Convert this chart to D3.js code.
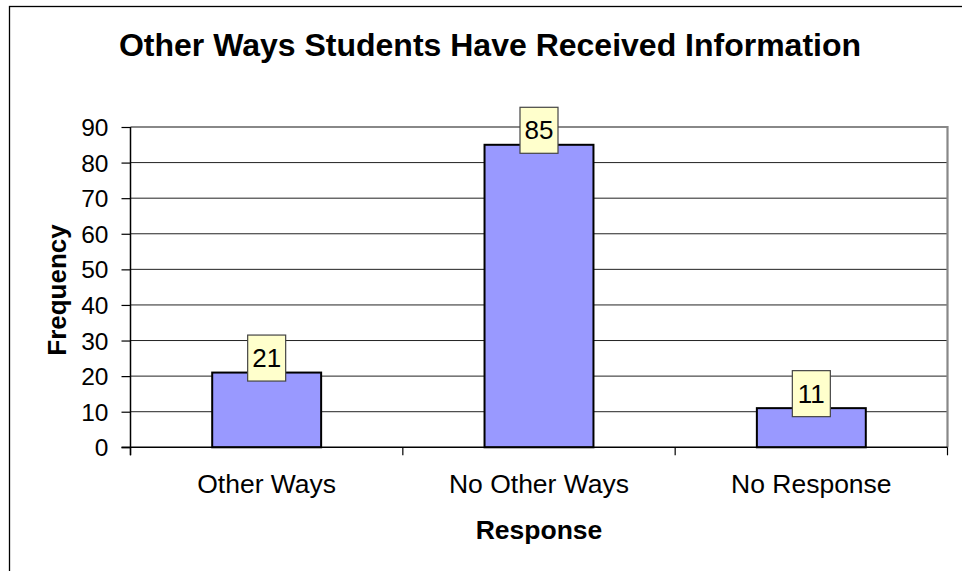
<!DOCTYPE html>
<html><head><meta charset="utf-8">
<script src="https://cdn.jsdelivr.net/npm/d3@7"></script>
<style>
body{margin:0;background:#fff;}
svg{display:block;font-family:Arial,"Liberation Sans",sans-serif;}
</style></head>
<body><svg id="c" width="962" height="571"></svg>
<script>
const categories = ["Other Ways", "No Other Ways", "No Response"];
const values = [21, 85, 11];
const yTicks = [0, 10, 20, 30, 40, 50, 60, 70, 80, 90];
const title = "Other Ways Students Have Received Information";
const xTitle = "Response";
const yTitle = "Frequency";

const svg = d3.select("#c");
const L = 130.5, R = 947.5, T = 127, B = 447.3;

svg.append("rect").attr("x", 9.5).attr("y", 6.5).attr("width", 1000).attr("height", 1000)
  .attr("fill", "#fff").attr("stroke", "#000").attr("stroke-width", 1.3);

const x = d3.scaleBand().domain(categories).range([L, R]).paddingInner(0.6).paddingOuter(0.3);
const xb = d3.scaleBand().domain(categories).range([L, R]);
const y = d3.scaleLinear().domain([0, 90]).range([B, T]);

// gridlines
svg.append("g").selectAll("line").data(yTicks.filter(d => d > 0 && d < 90)).join("line")
  .attr("x1", L).attr("x2", R).attr("y1", d => y(d)).attr("y2", d => y(d))
  .attr("stroke", "#222").attr("stroke-width", 1);

// plot border top & right (gray)
svg.append("path").attr("d", `M${L},${y(90)}H${R}V${B}`).attr("fill", "none")
  .attr("stroke", "#888").attr("stroke-width", 2.2);

// bars
svg.append("g").selectAll("rect").data(values).join("rect")
  .attr("x", (d, i) => x(categories[i])).attr("width", x.bandwidth())
  .attr("y", d => y(d)).attr("height", d => B - y(d))
  .attr("fill", "#9999FF").attr("stroke", "#000").attr("stroke-width", 2);

// y axis
const yAxis = d3.axisLeft(y).tickValues(yTicks).tickSize(9).tickPadding(13);
const gy = svg.append("g").attr("transform", `translate(${L},0)`).call(yAxis);
gy.select(".domain").attr("stroke", "#000").attr("stroke-width", 1.5).attr("d", `M0,${y(90)}V${B + 8}`);
gy.selectAll(".tick line").attr("stroke", "#000").attr("stroke-width", 1.2);
gy.selectAll(".tick text").attr("font-size", 24.5).attr("font-family", "Arial,'Liberation Sans',sans-serif").attr("fill", "#000").attr("dy", "0.35em");

// x axis
const gx = svg.append("g").attr("transform", `translate(0,${B})`);
gx.append("line").attr("x1", L - 9).attr("x2", R).attr("y1", 0).attr("y2", 0).attr("stroke", "#000").attr("stroke-width", 1.5);
const bounds = categories.map(c => xb(c)).concat([R]);
gx.selectAll(".bt").data(bounds).join("line").attr("class", "bt")
  .attr("x1", d => d).attr("x2", d => d).attr("y1", 0).attr("y2", 8)
  .attr("stroke", "#000").attr("stroke-width", 1.2);
gx.selectAll(".cl").data(categories).join("text").attr("class", "cl")
  .attr("x", d => xb(d) + xb.bandwidth() / 2).attr("y", 46)
  .attr("text-anchor", "middle").attr("font-size", 26.5).text(d => d);

// data labels
const lg = svg.append("g").selectAll("g").data(values).join("g")
  .attr("transform", (d, i) => `translate(${x(categories[i]) + x.bandwidth() / 2},${y(d) - 14.5})`);
lg.append("rect").attr("x", -19).attr("y", -23).attr("width", 38).attr("height", 46)
  .attr("fill", "#FFFFCC").attr("stroke", "#444").attr("stroke-width", 1.2);
lg.append("text").attr("text-anchor", "middle").attr("y", 9).attr("font-size", 26).text(d => d);

// titles
svg.append("text").attr("x", 490).attr("y", 56).attr("text-anchor", "middle")
  .attr("font-size", 32).attr("font-weight", "bold").text(title);
svg.append("text").attr("x", 539).attr("y", 539).attr("text-anchor", "middle")
  .attr("font-size", 26.5).attr("font-weight", "bold").text(xTitle);
svg.append("text").attr("transform", `translate(66,290) rotate(-90)`).attr("text-anchor", "middle")
  .attr("font-size", 26).attr("font-weight", "bold").text(yTitle);
</script></body></html>
